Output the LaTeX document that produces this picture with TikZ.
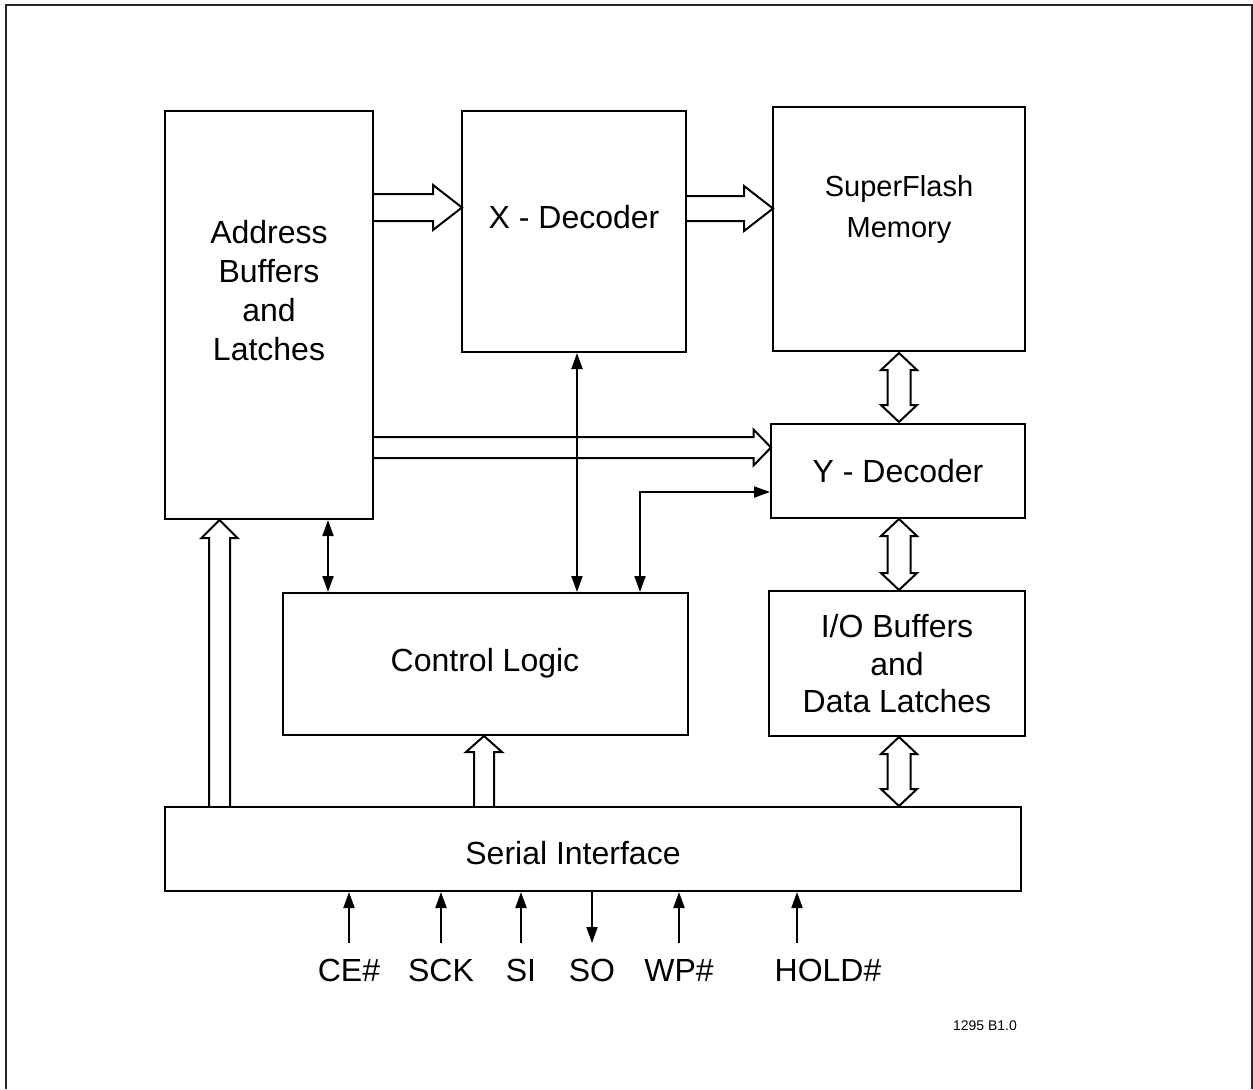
\documentclass[tikz,border=0pt]{standalone}
\usepackage{fontspec}
\setmainfont{Liberation Sans}
\usetikzlibrary{fit,arrows.meta}
\newcommand\hollowright[6]{% x1 x2 yc s h L
  \draw[sig] (#1,{#3-#4}) -- ({#2-#6},{#3-#4}) -- ({#2-#6},{#3-#5}) -- (#2,#3) -- ({#2-#6},{#3+#5}) -- ({#2-#6},{#3+#4}) -- (#1,{#3+#4});}
\newcommand\hollowup[6]{% xc ybottom ytip s h L
  \draw[sig] ({#1-#4},#2) -- ({#1-#4},{#3+#6}) -- ({#1-#5},{#3+#6}) -- (#1,#3) -- ({#1+#5},{#3+#6}) -- ({#1+#4},{#3+#6}) -- ({#1+#4},#2);}
\newcommand\hollowboth[6]{% xc ytop ybottom s h L
  \draw[sig] (#1,#2) -- ({#1+#5},{#2+#6}) -- ({#1+#4},{#2+#6}) -- ({#1+#4},{#3-#6}) -- ({#1+#5},{#3-#6}) -- (#1,#3) -- ({#1-#5},{#3-#6}) -- ({#1-#4},{#3-#6}) -- ({#1-#4},{#2+#6}) -- ({#1-#5},{#2+#6}) -- cycle;}
\begin{document}
\begin{tikzpicture}[x=0.5pt,y=-0.5pt,
  box/.style={draw,line width=1pt,inner sep=0pt},
  lbl/.style={font=\fontsize{16}{19.5}\selectfont,align=center,inner sep=0pt},
  sig/.style={line width=1pt,line join=miter},
  tiphead/.style={-{Triangle[length=8pt,width=5.5pt]}},
  bothhead/.style={{Triangle[length=8pt,width=5.5pt]}-{Triangle[length=8pt,width=5.5pt]}}]
\useasboundingbox (0,0) rectangle (1253,1089);
\draw[line width=1pt,black!85] (6,1089) -- (6,4.5) -- (1251.5,4.5) -- (1251.5,1089);

% boxes
\node[box,fit={(165,111) (373,519)}] (addr) {};
\node[box,fit={(462,111) (686,352)}] (xdec) {};
\node[box,fit={(773,107) (1025,351)}] (mem) {};
\node[box,fit={(771,424) (1025,518)}] (ydec) {};
\node[box,fit={(769,591) (1025,736)}] (iob) {};
\node[box,fit={(283,593) (688,735)}] (ctl) {};
\node[box,fit={(165,807) (1021,891)}] (ser) {};

% labels
\node[lbl] (addrL) at (269,291) {Address\\Buffers\\and\\Latches};
\node[lbl] (xdecL) at (574,217) {X - Decoder};
\node[lbl,font=\fontsize{14.5}{20.5}\selectfont] (memL) at (899,209) {SuperFlash\\Memory};
\node[lbl] (ydecL) at (898,471) {Y - Decoder};
\node[lbl,font=\fontsize{16}{18.75}\selectfont] (iobL) at (897,664) {I/O Buffers\\and\\Data Latches};
\node[lbl] (ctlL) at (485,663) {Control Logic};
\node[lbl] (serL) at (573,853) {Serial Interface};

% hollow bus arrows
\hollowright{373}{462}{207.5}{13.5}{22.5}{29}
\hollowright{686}{773}{208.5}{12.5}{22.5}{29}
\hollowright{373}{771}{447.5}{10.5}{18}{17.5}
\hollowboth{899}{353}{422}{11.5}{18}{17}
\hollowboth{899}{519}{590}{11.5}{18}{17}
\hollowboth{899}{737}{806}{11.5}{18}{17}
\hollowup{219.5}{807}{520}{10.5}{18}{18}
\hollowup{484}{807}{736}{10}{18}{16}

% thin control lines
\draw[sig,bothhead] (328,520) -- (328,592);
\draw[sig,bothhead] (577,353) -- (577,592);
\draw[sig,bothhead] (640,592) -- (640,492) -- (770,492);

% pins
\coordinate (pCE) at (349,943);
\coordinate (pSCK) at (441,943);
\coordinate (pSI) at (521,943);
\coordinate (pSO) at (592,943);
\coordinate (pWP) at (679,943);
\coordinate (pHOLD) at (797,943);
\draw[sig,tiphead] (pCE) -- (pCE |- ser.south);
\draw[sig,tiphead] (pSCK) -- (pSCK |- ser.south);
\draw[sig,tiphead] (pSI) -- (pSI |- ser.south);
\draw[sig,tiphead] (pSO |- ser.south) -- (pSO);
\draw[sig,tiphead] (pWP) -- (pWP |- ser.south);
\draw[sig,tiphead] (pHOLD) -- (pHOLD |- ser.south);
\node[lbl] (lCE) at (349,970) {CE\#};
\node[lbl] (lSCK) at (441,970) {SCK};
\node[lbl] (lSI) at (521,970) {SI};
\node[lbl] (lSO) at (592,970) {SO};
\node[lbl] (lWP) at (679,970) {WP\#};
\node[lbl] (lHOLD) at (828,970) {HOLD\#};
\node[lbl,font=\fontsize{7}{8}\selectfont] (ref) at (985,1026) {1295 B1.0};
\end{tikzpicture}
\end{document}
